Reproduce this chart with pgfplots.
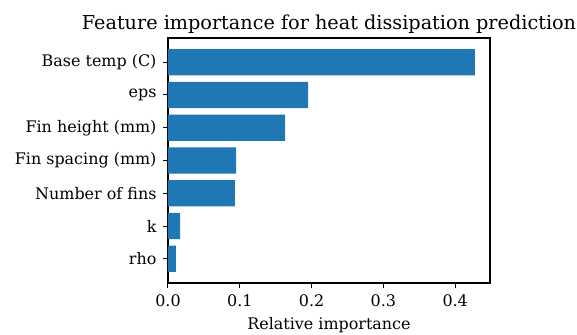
\documentclass[border=0pt]{standalone}
\usepackage{pgfplots}
\pgfplotsset{compat=1.18}
\usepackage{fontspec}
\setmainfont{DejaVu Serif}
\definecolor{mplblue}{HTML}{1F77B4}
\begin{document}
\begin{tikzpicture}
\begin{axis}[
  scale only axis,
  width=322bp, height=245bp,
  xmin=0, xmax=0.4485,
  ymin=-0.74, ymax=6.74,
  xbar, bar width=0.8,
  xtick={0,0.1,0.2,0.3,0.4},
  xticklabels={0.0,0.1,0.2,0.3,0.4},
  ytick={0,1,2,3,4,5,6},
  yticklabels={rho,k,Number of fins,Fin spacing (mm),Fin height (mm),eps,Base temp (C)},
  tick align=outside,
  tick pos=lower,
  major tick length=5bp,
  every tick/.style={black, line width=1bp},
  axis line style={line width=1.1bp},
  tick label style={font=\fontsize{16}{19}\selectfont},
  yticklabel style={xshift=-3bp},
  xticklabel style={yshift=-3bp},
  xlabel={Relative importance},
  xlabel style={font=\fontsize{16}{19}\selectfont, yshift=-4bp},
  title={Feature importance for heat dissipation prediction},
  title style={font=\fontsize{19.3}{23}\selectfont, anchor=base, yshift=3bp},
]
\coordinate (sw) at (rel axis cs:0,0);
\addplot[fill=mplblue, draw=none] coordinates {
  (0.011,0) (0.017,1) (0.093,2) (0.095,3) (0.163,4) (0.195,5) (0.4275,6)
};
\end{axis}
\pgfresetboundingbox
\path (sw) ++(-168bp,-52bp) rectangle ++(577bp,335bp);
\end{tikzpicture}
\end{document}
